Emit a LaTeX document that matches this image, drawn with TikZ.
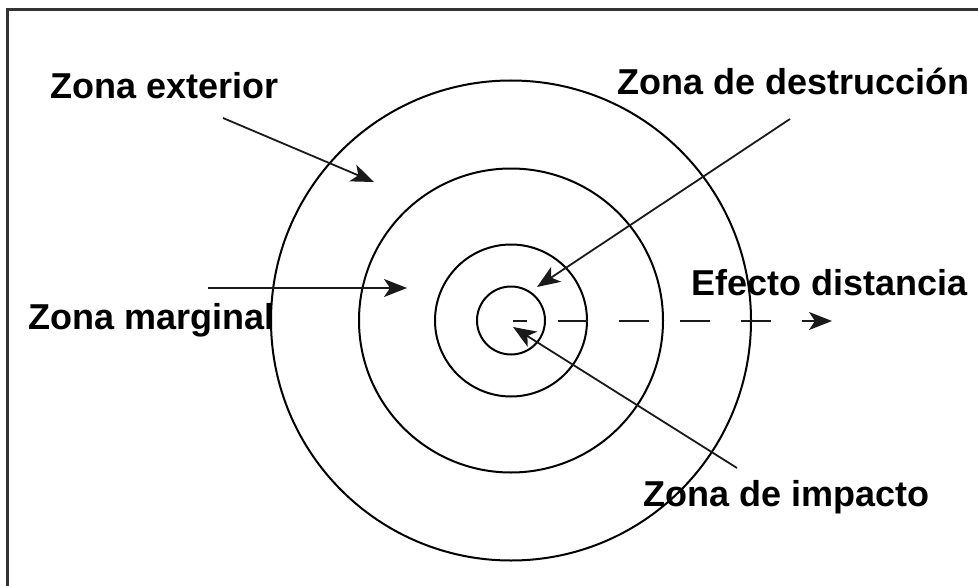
\documentclass[tikz,border=0pt]{standalone}
\usepackage{fontspec}
\setmainfont{Liberation Sans}
\usepackage{xcolor}
\usetikzlibrary{arrows.meta}
\definecolor{ringblack}{HTML}{000000}
\definecolor{arrowdark}{HTML}{1A1A1A}
\definecolor{framegray}{HTML}{333333}
\tikzset{
  ring/.style={ringblack, line width=2pt},
  pointer/.style={arrowdark, -{Stealth[length=23pt,width=18pt,inset=6pt]}, line width=1.8pt},
  distarrow/.style={pointer, dash pattern=on 30pt off 31pt, dash phase=16pt},
  zonelabel/.style={font=\bfseries\fontsize{36}{40}\selectfont, anchor=base west, inner sep=0pt},
  frameline/.style={framegray, line width=2.5pt}
}

\begin{document}
\begin{tikzpicture}[x=1pt,y=-1pt]
  \clip (0,0) rectangle (978,586);
  \draw[frameline] (7.5,600) -- (7.5,9.5) -- (990,9.5);
  \foreach \r in {240,152,76,34}
    \draw[ring] (511,320.5) circle[radius=\r];
  \node[zonelabel] (exterior) at (50,99) {Zona exterior};
  \node[zonelabel] (destruccion) at (617,95) {Zona de destrucción};
  \node[zonelabel] (distancia) at (691,295) {Efecto distancia};
  \node[zonelabel] (marginal) at (28,329) {Zona marginal};
  \node[zonelabel] (impacto) at (643,506) {Zona de impacto};
  \coordinate (exteriorfrom) at (223,118);
  \coordinate (exteriorto) at (374,182);
  \coordinate (marginalfrom) at (208,288);
  \coordinate (marginalto) at (407,288);
  \coordinate (destruccionfrom) at (790,119);
  \coordinate (destruccionto) at (537,287);
  \coordinate (impactofrom) at (737,468);
  \coordinate (impactoto) at (513,327);
  \coordinate (distanciafrom) at (513,321);
  \coordinate (distanciato) at (832,321);
  \draw[pointer] (exteriorfrom) -- (exteriorto);
  \draw[pointer] (marginalfrom) -- (marginalto);
  \draw[pointer] (destruccionfrom) -- (destruccionto);
  \draw[pointer] (impactofrom) -- (impactoto);
  \draw[distarrow] (distanciafrom) -- (distanciato);
\end{tikzpicture}
\end{document}
